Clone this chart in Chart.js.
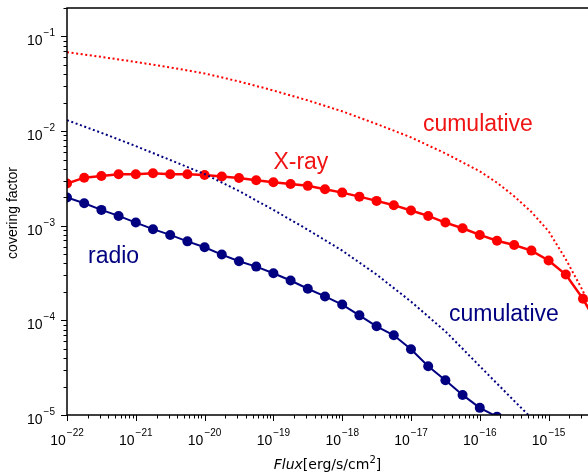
<!DOCTYPE html>
<html>
<head>
<meta charset="utf-8">
<script src="https://cdn.jsdelivr.net/npm/chart.js@4/dist/chart.umd.min.js"></script>
<style>
  body { margin: 0; background: #fff; }
</style>
</head>
<body>
<canvas id="chart" width="588" height="475"></canvas>
<script>
// flux grid of the marker curves (log10 of erg/s/cm^2)
const fluxExp = [-22, -21.75, -21.5, -21.25, -21, -20.75, -20.5, -20.25,
                 -20, -19.75, -19.5, -19.25, -19, -18.75, -18.5, -18.25,
                 -18, -17.75, -17.5, -17.25, -17, -16.75, -16.5, -16.25,
                 -16, -15.75, -15.5, -15.25, -15, -14.75, -14.5, -14.25];

const xray = [2.79e-3, 3.22e-3, 3.36e-3, 3.50e-3, 3.50e-3, 3.59e-3, 3.50e-3, 3.50e-3,
              3.44e-3, 3.32e-3, 3.20e-3, 3.03e-3, 2.88e-3, 2.76e-3, 2.64e-3, 2.43e-3,
              2.24e-3, 2.03e-3, 1.83e-3, 1.65e-3, 1.45e-3, 1.27e-3, 1.08e-3, 9.4e-4,
              8.0e-4, 6.95e-4, 6.26e-4, 5.46e-4, 4.29e-4, 3.05e-4, 1.69e-4, 8e-5];

const radio = [1.99e-3, 1.73e-3, 1.47e-3, 1.27e-3, 1.08e-3, 9.2e-4, 8.0e-4, 6.84e-4,
               5.92e-4, 4.96e-4, 4.21e-4, 3.70e-4, 3.15e-4, 2.64e-4, 2.16e-4, 1.79e-4,
               1.47e-4, 1.13e-4, 8.65e-5, 6.95e-5, 4.96e-5, 3.28e-5, 2.33e-5, 1.63e-5,
               1.19e-5, 9.6e-6, 7e-6];

// cumulative curves (dotted)
const cumXrayExp = [-22, -21.5, -21, -20.5, -20, -19.5, -19, -18.5, -18, -17.5,
                    -17, -16.5, -16, -15.75, -15.5, -15.25, -15, -14.75, -14.5, -14.25];
const cumXray = [0.0682, 0.0608, 0.0538, 0.0471, 0.0407, 0.0335, 0.0269, 0.0211, 0.0162, 0.0119,
                 8.59e-3, 5.82e-3, 3.76e-3, 2.85e-3, 2.05e-3, 1.40e-3, 8.75e-4, 4.43e-4, 2.04e-4, 6.98e-5];

const cumRadioExp = [-22, -21.5, -21, -20.5, -20, -19.5, -19, -18.5, -18, -17.5,
                     -17, -16.5, -16, -15.5, -15.25, -15];
const cumRadio = [0.01306, 9.59e-3, 6.95e-3, 4.95e-3, 3.52e-3, 2.33e-3, 1.47e-3, 9.08e-4, 5.46e-4, 3.05e-4,
                  1.58e-4, 7.66e-5, 3.28e-5, 1.41e-5, 9.3e-6, 5.9e-6];

// axis decades that get a 10^n label
const xTickExp = [-22, -21, -20, -19, -18, -17, -16, -15];
const yTickExp = [-5, -4, -3, -2, -1];

const RED = '#ff0000';
const NAVY = '#000080';
const SANS = '"Liberation Sans", Arial, sans-serif';

// text labels inside the plot, anchored in data coordinates (left, baseline)
const notes = [
    { text: 'cumulative', x: 1.49e-17, y: 1.0e-2, color: '#f01414' },
    { text: 'X-ray', x: 1.0e-19, y: 4.0e-3, color: '#f01414' },
    { text: 'radio', x: 2.02e-22, y: 4.05e-4, color: NAVY },
    { text: 'cumulative', x: 3.56e-17, y: 9.86e-5, color: NAVY }
];

const pts = (exps, vals) => vals.map((v, i) => ({ x: Math.pow(10, exps[i]), y: v }));

function minorValues(lo, hi) {
    const out = [];
    for (let d = Math.floor(Math.log10(lo)); d <= Math.ceil(Math.log10(hi)); d++) {
        for (let k = 1; k <= 9; k++) {
            const v = k * Math.pow(10, d);
            if (v >= lo * 0.999 && v <= hi * 1.001) out.push({ v: v, major: k === 1 });
        }
    }
    return out;
}

function powLabel(ctx, exp, px, baseY, align) {
    ctx.font = '14px ' + SANS;
    const bw = ctx.measureText('10').width;
    const sup = '\u2212' + Math.abs(exp);
    ctx.font = '10px ' + SANS;
    const sw = ctx.measureText(sup).width;
    const total = bw + 1 + sw;
    const left = align === 'center' ? px - total / 2 : px - total;
    ctx.font = '14px ' + SANS;
    ctx.fillText('10', left, baseY);
    ctx.font = '10px ' + SANS;
    ctx.fillText(sup, left + bw + 1, baseY - 9);
}

const decor = {
    id: 'decor',
    afterDatasetsDraw(chart) {
        const ctx = chart.ctx;
        const xs = chart.scales.x, ys = chart.scales.y;
        const a = chart.chartArea;
        ctx.save();

        // spines
        ctx.strokeStyle = '#000';
        ctx.lineWidth = 1.5;
        ctx.beginPath();
        ctx.moveTo(a.right, a.top);
        ctx.lineTo(a.left, a.top);
        ctx.lineTo(a.left, a.bottom);
        ctx.lineTo(a.right, a.bottom);
        ctx.stroke();

        // ticks
        ctx.lineWidth = 1;
        ctx.beginPath();
        minorValues(xs.min, xs.max).forEach(t => {
            const px = Math.round(xs.getPixelForValue(t.v)) + 0.5;
            ctx.moveTo(px, a.bottom);
            ctx.lineTo(px, a.bottom + (t.major ? 6 : 3.5));
        });
        minorValues(ys.min, ys.max).forEach(t => {
            const py = Math.round(ys.getPixelForValue(t.v)) + 0.5;
            ctx.moveTo(a.left, py);
            ctx.lineTo(a.left - (t.major ? 6 : 3.5), py);
        });
        ctx.stroke();

        // tick labels
        ctx.fillStyle = '#000';
        ctx.textBaseline = 'alphabetic';
        ctx.textAlign = 'left';
        xTickExp.forEach(e => {
            powLabel(ctx, e, xs.getPixelForValue(Math.pow(10, e)), a.bottom + 30, 'center');
        });
        yTickExp.forEach(e => {
            powLabel(ctx, e, a.left - 12, ys.getPixelForValue(Math.pow(10, e)) + 9, 'right');
        });

        // axis titles
        ctx.save();
        ctx.translate(13, 213);
        ctx.rotate(-Math.PI / 2);
        ctx.font = '14px ' + SANS;
        ctx.textAlign = 'center';
        ctx.textBaseline = 'middle';
        ctx.fillText('covering factor', 0, 0);
        ctx.restore();

        const parts = [
            { t: 'Flux', f: 'italic 14px "DejaVu Sans"', dy: 0 },
            { t: '[erg/s/cm', f: '14px "DejaVu Sans"', dy: 0 },
            { t: '2', f: '10px "DejaVu Sans"', dy: -6 },
            { t: ']', f: '14px "DejaVu Sans"', dy: 0 }
        ];
        let w = 0;
        parts.forEach(p => { ctx.font = p.f; p.w = ctx.measureText(p.t).width; w += p.w; });
        let cx = (a.left + a.right) / 2 - w / 2;
        const by = 469;
        parts.forEach(p => { ctx.font = p.f; ctx.fillText(p.t, cx, by + p.dy); cx += p.w; });

        // in-plot labels
        ctx.font = '23px ' + SANS;
        notes.forEach(n => {
            ctx.fillStyle = n.color;
            ctx.fillText(n.text, xs.getPixelForValue(n.x), ys.getPixelForValue(n.y));
        });
        ctx.restore();
    }
};

const chart = new Chart(document.getElementById('chart'), {
    type: 'line',
    data: {
        datasets: [
            {
                data: pts(cumRadioExp, cumRadio),
                borderColor: NAVY, borderWidth: 2, borderDash: [2, 2.6],
                pointRadius: 0, tension: 0
            },
            {
                data: pts(cumXrayExp, cumXray),
                borderColor: RED, borderWidth: 2, borderDash: [2, 2.6],
                pointRadius: 0, tension: 0
            },
            {
                data: pts(fluxExp, radio),
                borderColor: NAVY, borderWidth: 2,
                pointRadius: 5, pointBackgroundColor: NAVY, pointBorderWidth: 0,
                tension: 0
            },
            {
                data: pts(fluxExp, xray),
                borderColor: RED, borderWidth: 2.5,
                pointRadius: 5, pointBackgroundColor: RED, pointBorderWidth: 0,
                tension: 0
            }
        ]
    },
    options: {
        responsive: false,
        animation: false,
        layout: { autoPadding: false, padding: { top: 8, right: 0, left: 0, bottom: 0 } },
        plugins: { legend: { display: false }, tooltip: { enabled: false } },
        scales: {
            x: {
                type: 'logarithmic',
                min: 1e-22,
                max: 3.74e-15,
                grid: { display: false },
                border: { display: false },
                ticks: { display: false },
                afterFit: s => { s.height = 60; s.paddingLeft = 0; s.paddingRight = 0; }
            },
            y: {
                type: 'logarithmic',
                min: 1e-5,
                max: 0.2,
                grid: { display: false },
                border: { display: false },
                ticks: { display: false },
                afterFit: s => { s.width = 67; s.paddingTop = 0; s.paddingBottom = 0; }
            }
        }
    },
    plugins: [decor]
});
</script>
</body>
</html>
